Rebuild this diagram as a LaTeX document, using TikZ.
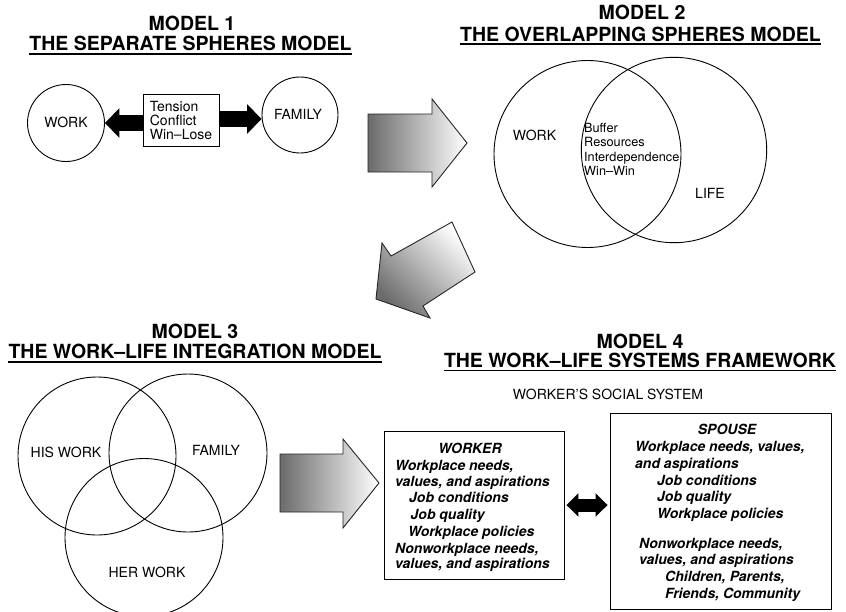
\documentclass[tikz,border=0pt]{standalone}
\usepackage{fontspec}
\setmainfont{TeX Gyre Heros}
\usetikzlibrary{arrows.meta}
\begin{document}
\begin{tikzpicture}[x=1pt,y=1pt,
  ttl/.style={font=\fontsize{19.5}{21}\selectfont\bfseries, inner sep=0, anchor=base},
  lbl/.style={font=\fontsize{14}{16}\selectfont, inner sep=0, anchor=base},
  sm/.style={font=\fontsize{12.7}{14}\selectfont, inner sep=0, anchor=base west},
  bi/.style={font=\fontsize{14}{16}\selectfont\bfseries\itshape, inner sep=0, anchor=base west},
  ring/.style={circle, draw, line width=0.9pt, inner sep=0},
  boxx/.style={draw, line width=0.9pt, inner sep=0},
  uline/.style={line width=1.1pt},
  grad/.style={draw=black!85, line width=0.9pt, left color=black!58, right color=white},
  blk/.style={line width=16.5pt, -{Triangle[width=29pt,length=14.5pt]}},
  dbl/.style={line width=13pt, {Triangle[width=23pt,length=12pt]}-{Triangle[width=23pt,length=12pt]}}
]
\useasboundingbox (0,0) rectangle (846,-611);

% ---------- MODEL 1 ----------
\node[ttl] (t1a) at (192,-30) {MODEL 1};
\node[ttl] (t1b) at (190.5,-50.5) {THE SEPARATE SPHERES MODEL};
\draw[uline] ([yshift=-3.5pt]t1b.base west) -- ([yshift=-3.5pt]t1b.base east);

\node[ring, minimum size=77pt] (work1) at (66,-123) {};
\node[ring, minimum size=76pt] (fam1) at (300,-115) {};
\node[lbl] (work1t) at (66,-127) {WORK};
\node[lbl] (fam1t) at (298,-119) {FAMILY};
\node[boxx, minimum width=76pt, minimum height=52pt, align=left,
      font=\fontsize{14}{14}\selectfont] (tbox) at (181,-120) {Tension\\Conflict\\Win–Lose};
\draw[blk] (tbox.west |- work1.east) -- (work1.east);
\draw[blk] ([yshift=1pt]tbox.east) -- ([yshift=1pt]tbox.east -| fam1.west);

% ---------- arrow 1 -> 2 ----------
\shade[grad] (368,-114) -- (432,-114) -- (432,-99) -- (467,-143) -- (432,-187)
  -- (432,-172) -- (368,-172) -- cycle;

% ---------- MODEL 2 ----------
\node[ttl] (t2a) at (642,-19) {MODEL 2};
\node[ttl] (t2b) at (640.5,-41) {THE OVERLAPPING SPHERES MODEL};
\draw[uline] ([yshift=-3pt]t2b.base west) -- ([yshift=-3pt]t2b.base east);

\node[ring, minimum size=187pt] (work2) at (587.5,-154) {};
\node[ring, minimum size=185.4pt] (life2) at (674,-150) {};
\node[lbl] (work2t) at (534.5,-140) {WORK};
\node[lbl] (life2t) at (710,-198) {LIFE};
\node[sm] (b1) at (584,-132.5) {Buffer};
\node[sm] (b2) at (584,-146.8) {Resources};
\node[sm] (b3) at (584,-161.1) {Interdependence};
\node[sm] (b4) at (584,-175.4) {Win–Win};

% ---------- arrow 2 -> 3 ----------
\shade[draw=black!85, line width=0.9pt, top color=white, bottom color=black!58, shading angle=-45]
  (452,-222) -- (475,-272) -- (423,-306) -- (430,-318) -- (376,-299) -- (382,-243)
  -- (391,-256) -- cycle;

% ---------- MODEL 3 ----------
\node[ttl] (t3a) at (195,-338) {MODEL 3};
\node[ttl] (t3b) at (195,-358.5) {THE WORK–LIFE INTEGRATION MODEL};
\draw[uline] ([yshift=-3.5pt]t3b.base west) -- ([yshift=-3.5pt]t3b.base east);

\node[ring, minimum size=158pt] (his) at (97,-456) {};
\node[ring, minimum size=158pt] (fam3) at (188,-453) {};
\node[ring, minimum size=158pt] (her) at (144,-537.5) {};
\node[lbl] (hist) at (66,-457) {HIS WORK};
\node[lbl] (fam3t) at (216,-455) {FAMILY};
\node[lbl] (hert) at (147,-577) {HER WORK};

% ---------- arrow 3 -> 4 ----------
\shade[grad] (280,-454) -- (343,-454) -- (343,-439) -- (379,-483) -- (343,-528)
  -- (343,-512) -- (280,-512) -- cycle;

% ---------- MODEL 4 ----------
\node[ttl] (t4a) at (640,-348) {MODEL 4};
\node[ttl] (t4b) at (640,-367) {THE WORK–LIFE SYSTEMS FRAMEWORK};
\draw[uline] ([yshift=-3.5pt]t4b.base west) -- ([yshift=-3.5pt]t4b.base east);
\node[lbl] (wss) at (608,-399) {WORKER'S SOCIAL SYSTEM};

\node[boxx, minimum width=180pt, minimum height=148pt] (wbox) at (474,-505) {};
\node[boxx, minimum width=221pt, minimum height=196pt] (sbox) at (720.5,-511) {};
\draw[dbl, shorten <=2pt, shorten >=2pt] (wbox.east) -- (wbox.east -| sbox.west);

\node[bi, anchor=base] (w0) at (470,-453.3) {WORKER};
\node[bi] (w1) at (395,-470) {Workplace needs,};
\node[bi] (w2) at (395,-486.7) {values, and aspirations};
\node[bi] (w3) at (409,-502.7) {Job conditions};
\node[bi] (w4) at (410.5,-519) {Job quality};
\node[bi] (w5) at (408,-536) {Workplace policies};
\node[bi] (w6) at (395,-553.3) {Nonworkplace needs,};
\node[bi] (w7) at (395,-568.3) {values, and aspirations};

\node[bi, anchor=base] (s0) at (727,-434.3) {SPOUSE};
\node[bi] (s1) at (635,-451.7) {Workplace needs, values,};
\node[bi] (s2) at (635,-468.3) {and aspirations};
\node[bi] (s3) at (657,-485) {Job conditions};
\node[bi] (s4) at (657,-501.7) {Job quality};
\node[bi] (s5) at (657,-518.3) {Workplace policies};
\node[bi] (s6) at (639,-548.3) {Nonworkplace needs,};
\node[bi] (s7) at (639,-564.3) {values, and aspirations};
\node[bi] (s8) at (665,-581.7) {Children, Parents,};
\node[bi] (s9) at (665,-598.3) {Friends, Community};
\end{tikzpicture}
\end{document}
